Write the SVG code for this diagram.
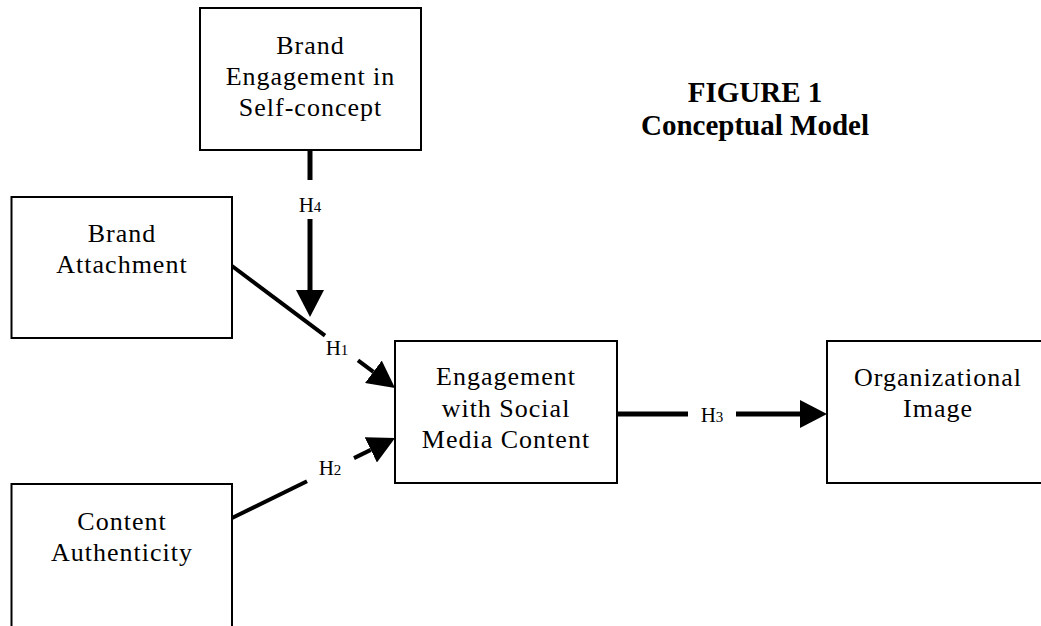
<svg xmlns="http://www.w3.org/2000/svg" width="1041" height="626" viewBox="0 0 1041 626">
<style>
.box{fill:#fff;stroke:#000;stroke-width:2}
.t{font-family:"Liberation Serif","Times New Roman",serif;font-size:26px;letter-spacing:1px;text-anchor:middle;fill:#000}
.lbl{font-family:"Liberation Serif","Times New Roman",serif;font-size:21px;text-anchor:middle;fill:#000}
.sub{font-size:15px}
.title{font-family:"Liberation Serif","Times New Roman",serif;font-size:29px;font-weight:bold;text-anchor:middle;fill:#000}
.c{stroke:#000;fill:none;stroke-linecap:butt}
.thick{stroke-width:5}
.thin{stroke-width:4}
</style>
<defs>
<marker id="ah" viewBox="0 0 27 28" refX="0" refY="14" markerWidth="27" markerHeight="28" markerUnits="userSpaceOnUse" orient="auto">
<path d="M0,0 L27,14 L0,28 z" fill="#000"/>
</marker>
</defs>
<rect width="1041" height="626" fill="#fff"/>
<g id="connectors">
<line class="c thick" x1="310" y1="150" x2="310" y2="180"/>
<line class="c thick" x1="310" y1="219" x2="310" y2="290" marker-end="url(#ah)"/>
<line class="c thin" x1="232" y1="266" x2="325" y2="335.6"/>
<line class="c thin" x1="358" y1="360.3" x2="373.4" y2="371.8" marker-end="url(#ah)"/>
<line class="c thin" x1="232" y1="518" x2="307" y2="481.2"/>
<line class="c thin" x1="354" y1="458.1" x2="370.8" y2="449.9" marker-end="url(#ah)"/>
<line class="c thick" x1="617" y1="414" x2="688" y2="414"/>
<line class="c thick" x1="736" y1="414" x2="800" y2="414" marker-end="url(#ah)"/>
<text class="lbl" x="310" y="212">H<tspan class="sub">4</tspan></text>
<text class="lbl" x="337" y="355">H<tspan class="sub">1</tspan></text>
<text class="lbl" x="330" y="475">H<tspan class="sub">2</tspan></text>
<text class="lbl" x="712" y="422">H<tspan class="sub">3</tspan></text>
</g>
<g id="node-self-concept">
<rect class="box" x="200" y="8" width="221" height="142"/>
<text class="t" x="310.5" y="54">Brand</text>
<text class="t" x="310.5" y="85">Engagement in</text>
<text class="t" x="310.5" y="116">Self-concept</text>
</g>
<g id="node-brand-attachment">
<rect class="box" x="11.5" y="197" width="220.5" height="141"/>
<text class="t" x="122" y="242">Brand</text>
<text class="t" x="122" y="273">Attachment</text>
</g>
<g id="node-engagement">
<rect class="box" x="395" y="341" width="222" height="142"/>
<text class="t" x="506" y="385">Engagement</text>
<text class="t" x="506" y="417">with Social</text>
<text class="t" x="506" y="448">Media Content</text>
</g>
<g id="node-organizational-image">
<rect class="box" x="827" y="341" width="222" height="142"/>
<text class="t" x="938" y="386">Organizational</text>
<text class="t" x="938" y="417">Image</text>
</g>
<g id="node-content-authenticity">
<rect class="box" x="11.5" y="484" width="220.5" height="160"/>
<text class="t" x="122" y="530">Content</text>
<text class="t" x="122" y="561">Authenticity</text>
</g>
<g id="title">
<text class="title" x="755" y="102">FIGURE 1</text>
<text class="title" x="755" y="135">Conceptual Model</text>
</g>
</svg>
